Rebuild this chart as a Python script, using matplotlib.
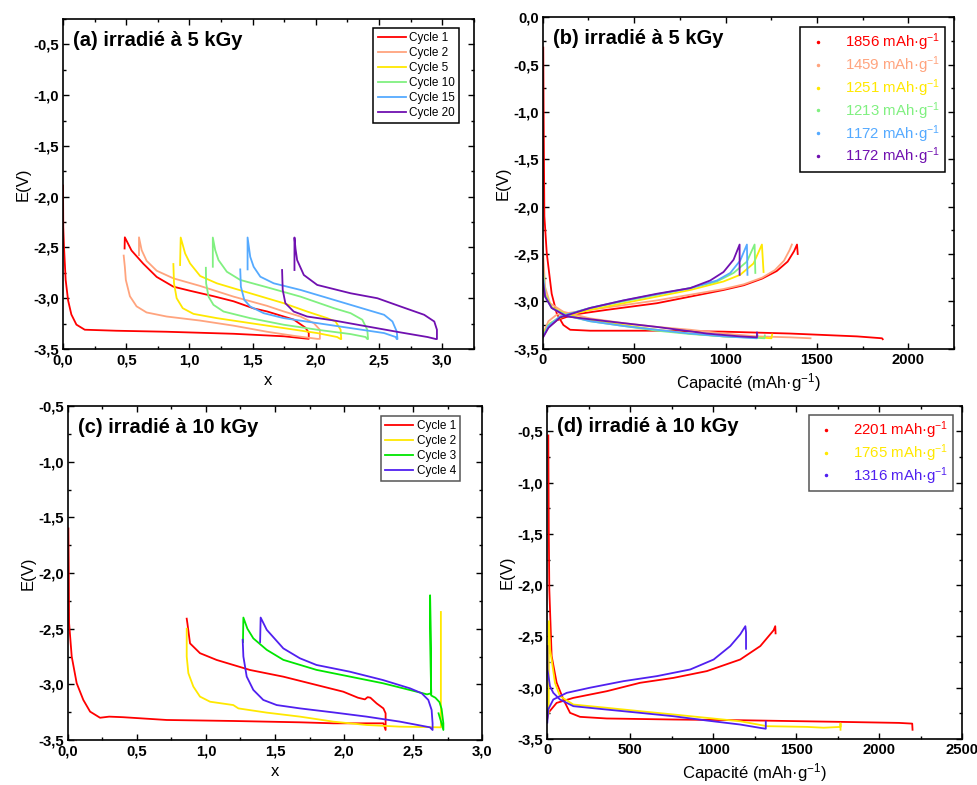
import matplotlib
matplotlib.use("Agg")
import matplotlib.pyplot as plt
from matplotlib.lines import Line2D
from matplotlib.ticker import MultipleLocator, FuncFormatter

plt.rcParams["font.family"] = ["Liberation Sans", "DejaVu Sans"]
plt.rcParams["mathtext.fontset"] = "custom"
plt.rcParams["mathtext.rm"] = "Liberation Sans"
plt.rcParams["mathtext.it"] = "Liberation Sans:italic"
plt.rcParams["mathtext.bf"] = "Liberation Sans:bold"
plt.rcParams["axes.unicode_minus"] = False

# ---- (a) irradie 5 kGy, E vs x ----
a_labels = ["Cycle 1", "Cycle 2", "Cycle 5", "Cycle 10", "Cycle 15", "Cycle 20"]
a_colors = ["#FF0000", "#FFA47E", "#FFE800", "#80F080", "#55AAFF", "#7010B0"]
a_c1_x = [0.0, 0.002, 0.008, 0.021, 0.04, 0.066, 0.106, 0.172, 0.42, 0.82, 1.35, 1.75, 1.944,
          1.944, 1.918, 1.825, 1.614, 1.508, 1.349, 1.19, 1.0, 0.873, 0.741, 0.635, 0.542, 0.489, 0.487]
a_c1_e = [-1.89, -2.3, -2.5, -2.82, -3.02, -3.16, -3.26, -3.31, -3.32, -3.33, -3.35, -3.375, -3.40,
          -3.34, -3.29, -3.21, -3.13, -3.10, -3.03, -2.98, -2.925, -2.886, -2.79, -2.66, -2.53, -2.40, -2.51]
a_c2_x = [0.48, 0.489, 0.497, 0.529, 0.582, 0.661, 0.82, 1.085, 1.349, 1.614, 1.825, 2.011, 2.032,
          2.032, 1.984, 1.878, 1.746, 1.614, 1.349, 1.085, 0.873, 0.741, 0.661, 0.622, 0.601, 0.601]
a_c2_e = [-2.58, -2.69, -2.82, -2.98, -3.08, -3.14, -3.18, -3.22, -3.27, -3.33, -3.37, -3.40, -3.40,
          -3.31, -3.245, -3.18, -3.13, -3.075, -2.984, -2.879, -2.804, -2.729, -2.631, -2.526, -2.40, -2.575]
a_c5_x = [0.873, 0.878, 0.899, 0.947, 1.032, 1.217, 1.481, 1.746, 2.011, 2.169, 2.196, 2.201,
          2.196, 2.156, 2.09, 1.931, 1.746, 1.481, 1.217, 1.085, 1.005, 0.966, 0.931, 0.926]
a_c5_e = [-2.663, -2.853, -3.0, -3.098, -3.154, -3.196, -3.245, -3.294, -3.343, -3.382, -3.402, -3.402,
          -3.31, -3.229, -3.196, -3.131, -3.049, -2.951, -2.853, -2.781, -2.657, -2.559, -2.402, -2.673]
a_c10_x = [1.13, 1.132, 1.151, 1.19, 1.27, 1.481, 1.746, 2.011, 2.275, 2.394, 2.407, 2.413,
           2.407, 2.368, 2.275, 2.143, 1.878, 1.614, 1.402, 1.296, 1.23, 1.204, 1.185, 1.185]
a_c10_e = [-2.70, -2.853, -2.984, -3.065, -3.131, -3.196, -3.261, -3.31, -3.353, -3.382, -3.402, -3.402,
           -3.31, -3.212, -3.147, -3.098, -2.984, -2.892, -2.82, -2.739, -2.624, -2.526, -2.402, -2.69]
a_c15_x = [1.402, 1.407, 1.434, 1.481, 1.587, 1.746, 2.011, 2.275, 2.54, 2.632, 2.64, 2.646,
           2.64, 2.606, 2.54, 2.407, 2.143, 1.878, 1.667, 1.561, 1.508, 1.481, 1.46, 1.46]
a_c15_e = [-2.716, -2.886, -3.016, -3.082, -3.147, -3.196, -3.245, -3.294, -3.343, -3.382, -3.402, -3.402,
           -3.327, -3.229, -3.163, -3.114, -3.016, -2.918, -2.853, -2.788, -2.69, -2.592, -2.402, -2.716]
a_c20_x = [1.733, 1.738, 1.759, 1.825, 1.931, 2.143, 2.407, 2.672, 2.884, 2.95, 2.958,
           2.958, 2.937, 2.857, 2.672, 2.487, 2.275, 2.011, 1.905, 1.852, 1.839, 1.831, 1.831]
a_c20_e = [-2.722, -2.918, -3.049, -3.131, -3.18, -3.219, -3.278, -3.337, -3.382, -3.402, -3.402,
           -3.31, -3.229, -3.163, -3.082, -3.0, -2.951, -2.869, -2.771, -2.624, -2.51, -2.402, -2.722]

# ---- (b) irradie 5 kGy, E vs capacity ----
b_labels = ["1856", "1459", "1251", "1213", "1172", "1172"]
b_c1_dis_c = [3, 5, 9, 22, 49, 77, 113, 150, 259, 624, 989, 1354, 1719, 1856, 1860]
b_c1_dis_e = [-0.32, -1.0, -2.1, -2.49, -2.92, -3.13, -3.25, -3.30, -3.31, -3.31, -3.32, -3.34, -3.37, -3.39, -3.40]
b_c1_chg_c = [2, 31, 77, 168, 350, 624, 807, 989, 1100, 1200, 1280, 1340, 1375, 1391, 1395]
b_c1_chg_e = [-3.37, -3.27, -3.20, -3.14, -3.09, -3.02, -2.95, -2.88, -2.83, -2.76, -2.68, -2.58, -2.47, -2.40, -2.50]
b_c2_dis_c = [0, 13, 40, 113, 259, 442, 624, 807, 989, 1172, 1354, 1465]
b_c2_dis_e = [-2.42, -2.85, -3.02, -3.11, -3.18, -3.23, -3.27, -3.30, -3.34, -3.37, -3.38, -3.39]
b_c2_chg_c = [2, 31, 77, 259, 442, 624, 807, 989, 1100, 1200, 1270, 1320, 1350, 1363]
b_c2_chg_e = [-3.34, -3.21, -3.14, -3.09, -3.04, -2.99, -2.93, -2.87, -2.82, -2.75, -2.67, -2.57, -2.46, -2.40]
b_c5_dis_c = [0, 13, 49, 131, 259, 442, 624, 807, 989, 1172, 1251, 1255]
b_c5_dis_e = [-2.67, -2.92, -3.06, -3.14, -3.20, -3.25, -3.30, -3.34, -3.37, -3.38, -3.39, -3.35]
b_c5_chg_c = [2, 40, 113, 259, 442, 624, 807, 989, 1080, 1153, 1199, 1208]
b_c5_chg_e = [-3.34, -3.23, -3.16, -3.09, -3.02, -2.95, -2.88, -2.79, -2.72, -2.60, -2.40, -2.69]
b_c10_dis_c = [0, 13, 49, 131, 259, 442, 624, 807, 989, 1172, 1213, 1215]
b_c10_dis_e = [-2.64, -2.93, -3.07, -3.15, -3.21, -3.26, -3.31, -3.345, -3.37, -3.385, -3.39, -3.36]
b_c10_chg_c = [2, 31, 95, 259, 442, 624, 807, 953, 1044, 1117, 1159, 1163]
b_c10_chg_e = [-3.37, -3.25, -3.16, -3.07, -3.0, -2.93, -2.86, -2.79, -2.70, -2.58, -2.40, -2.70]
b_c15_dis_c = [0, 13, 49, 131, 259, 442, 624, 807, 989, 1172, 1175]
b_c15_dis_e = [-2.70, -2.95, -3.07, -3.15, -3.21, -3.26, -3.30, -3.34, -3.37, -3.39, -3.36]
b_c15_chg_c = [2, 31, 95, 259, 442, 624, 807, 953, 1026, 1080, 1117, 1120]
b_c15_chg_e = [-3.37, -3.26, -3.16, -3.07, -2.99, -2.925, -2.86, -2.78, -2.70, -2.57, -2.40, -2.72]
b_c20_dis_c = [0, 13, 49, 131, 350, 624, 898, 1080, 1172, 1172]
b_c20_dis_e = [-2.77, -2.95, -3.07, -3.16, -3.21, -3.27, -3.34, -3.37, -3.38, -3.33]
b_c20_chg_c = [2, 31, 95, 259, 442, 624, 807, 916, 989, 1044, 1077, 1077]
b_c20_chg_e = [-3.38, -3.28, -3.17, -3.07, -2.99, -2.92, -2.86, -2.78, -2.69, -2.56, -2.40, -2.72]

# ---- (c) irradie 10 kGy, E vs x ----
c_labels = ["Cycle 1", "Cycle 2", "Cycle 3", "Cycle 4"]
c_colors = ["#FF0000", "#FFE800", "#00E600", "#5020F0"]
c_c1_x = [0.005, 0.008, 0.01, 0.029, 0.065, 0.113, 0.162, 0.234, 0.3, 0.4, 0.716, 1.198, 1.681, 1.922, 2.284,
          2.30, 2.30, 2.30, 2.284, 2.235, 2.19, 2.17, 2.15, 2.10, 1.994, 1.801, 1.56, 1.319, 1.078, 0.957,
          0.885, 0.866, 0.861]
c_c1_e = [-1.60, -2.0, -2.45, -2.75, -2.99, -3.14, -3.245, -3.30, -3.29, -3.295, -3.32, -3.329, -3.341, -3.35, -3.35,
          -3.41, -3.35, -3.26, -3.216, -3.171, -3.12, -3.115, -3.135, -3.12, -3.066, -3.006, -2.931, -2.871, -2.781, -2.72,
          -2.632, -2.452, -2.41]
c_c2_x = [0.861, 0.861, 0.873, 0.909, 0.957, 1.03, 1.198, 1.235, 1.44, 1.681, 1.922, 2.163, 2.404, 2.694, 2.70, 2.70]
c_c2_e = [-2.5, -2.75, -2.90, -3.02, -3.11, -3.156, -3.186, -3.216, -3.254, -3.29, -3.335, -3.365, -3.38, -3.386,
          -3.386, -2.35]
c_c3_x = [2.683, 2.70, 2.718, 2.718, 2.705, 2.69, 2.66, 2.63, 2.622, 2.626, 2.63, 2.60, 2.525, 2.28, 2.04, 1.80,
          1.56, 1.44, 1.343, 1.30, 1.271, 1.268]
c_c3_e = [-3.26, -3.33, -3.41, -3.35, -3.22, -3.16, -3.12, -3.10, -2.20, -2.85, -3.08, -3.09, -3.066, -2.99, -2.93,
          -2.87, -2.78, -2.69, -2.587, -2.50, -2.40, -2.62]
c_c4_x = [1.266, 1.271, 1.295, 1.343, 1.415, 1.512, 1.681, 1.922, 2.163, 2.404, 2.621, 2.64,
          2.64, 2.633, 2.609, 2.561, 2.477, 2.28, 2.04, 1.80, 1.68, 1.56, 1.44, 1.396, 1.392]
c_c4_e = [-2.60, -2.75, -2.93, -3.05, -3.14, -3.186, -3.216, -3.252, -3.29, -3.335, -3.386, -3.41,
          -3.35, -3.23, -3.14, -3.08, -3.036, -2.961, -2.886, -2.826, -2.766, -2.677, -2.51, -2.40, -2.62]

# ---- (d) irradie 10 kGy, E vs capacity ----
d_labels = ["2201", "1765", "1316"]
d_colors = ["#FF0000", "#FFE800", "#5020F0"]
d_c1_dis_c = [6, 9, 12, 26, 56, 97, 137, 197, 358, 559, 760, 1162, 1766, 2118, 2198, 2200]
d_c1_dis_e = [-0.54, -1.5, -2.04, -2.69, -2.95, -3.115, -3.245, -3.284, -3.30, -3.305, -3.31, -3.317, -3.333,
              -3.343, -3.35, -3.41]
d_c1_chg_c = [0, 6, 56, 157, 358, 559, 760, 961, 1162, 1283, 1363, 1373, 1375]
d_c1_chg_e = [-3.30, -3.245, -3.148, -3.099, -3.034, -2.952, -2.904, -2.838, -2.725, -2.594, -2.44, -2.40, -2.47]
d_c2_c = [8, 10, 16, 26, 46, 76, 157, 358, 559, 760, 961, 1162, 1323, 1565, 1665, 1766, 1766, 1766]
d_c2_e = [-3.25, -2.35, -2.62, -2.725, -2.952, -3.082, -3.164, -3.196, -3.229, -3.261, -3.294, -3.327, -3.375,
          -3.382, -3.39, -3.382, -3.35, -3.41]
d_c3_dis_c = [0, 1, 16, 36, 76, 157, 358, 559, 760, 961, 1162, 1283, 1316, 1316]
d_c3_dis_e = [-2.594, -2.82, -2.985, -3.05, -3.115, -3.18, -3.213, -3.245, -3.278, -3.32, -3.359, -3.392, -3.40, -3.33]
d_c3_chg_c = [0, 6, 36, 117, 257, 459, 660, 861, 1002, 1102, 1162, 1193, 1197, 1197]
d_c3_chg_e = [-3.34, -3.21, -3.115, -3.05, -3.0, -2.936, -2.887, -2.822, -2.725, -2.594, -2.48, -2.40, -2.46, -2.62]


def comma(fmt):
    return FuncFormatter(lambda v, p: format(v, fmt).replace(".", ","))


def style(ax, xlim, ylim, xmaj, xfmt):
    ax.set_xlim(*xlim)
    ax.set_ylim(*ylim)
    ax.xaxis.set_major_locator(MultipleLocator(xmaj))
    ax.xaxis.set_minor_locator(MultipleLocator(xmaj / 2))
    ax.yaxis.set_major_locator(MultipleLocator(0.5))
    ax.yaxis.set_minor_locator(MultipleLocator(0.25))
    ax.xaxis.set_major_formatter(comma(xfmt))
    ax.yaxis.set_major_formatter(comma(".1f"))
    ax.tick_params(which="both", direction="in", top=True, right=True, width=1.0)
    ax.tick_params(which="major", length=4, labelsize=10.7, pad=3)
    ax.tick_params(which="minor", length=2.2)
    for lab in ax.get_xticklabels() + ax.get_yticklabels():
        lab.set_fontweight("bold")
    for s in ax.spines.values():
        s.set_linewidth(1.2)
    ax.set_ylabel("E(V)", fontsize=12, labelpad=2)


def title(ax, s):
    ax.text(0.024, 0.965, s, transform=ax.transAxes, fontsize=14.5,
            fontweight="bold", va="top", ha="left")


def line_legend(ax, anchor, edge):
    lg = ax.legend(loc="upper right", bbox_to_anchor=anchor, fontsize=8.5, fancybox=False,
                   edgecolor=edge, framealpha=1, borderpad=0.35, labelspacing=0.25,
                   handlelength=2.4, handletextpad=0.3, borderaxespad=0)
    lg.get_frame().set_linewidth(1.1)
    return lg


def dot_legend(ax, labels, colors, anchor, edge):
    handles = [Line2D([], [], color=c, marker=".", linestyle="none", markersize=3) for c in colors]
    texts = [f"{v} mAh·g$^{{-1}}$" for v in labels]
    lg = ax.legend(handles, texts, loc="upper right", bbox_to_anchor=anchor, fontsize=10.8,
                   fancybox=False, edgecolor=edge, framealpha=1, borderpad=0.3,
                   labelspacing=0.08, handlelength=1.7, handletextpad=0.95, borderaxespad=0)
    lg.get_frame().set_linewidth(1.1)
    for t, c in zip(lg.get_texts(), colors):
        t.set_color(c)
    return lg


fig = plt.figure(figsize=(9.77, 7.85), dpi=100)
ax_a = fig.add_axes([0.0645, 0.5554, 0.4205, 0.4204])
ax_b = fig.add_axes([0.5555, 0.5558, 0.4210, 0.4222])
ax_c = fig.add_axes([0.0693, 0.0573, 0.4244, 0.4255])
ax_d = fig.add_axes([0.5602, 0.0586, 0.4248, 0.4246])

lw = 1.3

# (a)
a_xs = [a_c1_x, a_c2_x, a_c5_x, a_c10_x, a_c15_x, a_c20_x]
a_es = [a_c1_e, a_c2_e, a_c5_e, a_c10_e, a_c15_e, a_c20_e]
for xs, es, col, lab in zip(a_xs, a_es, a_colors, a_labels):
    ax_a.plot(xs, es, color=col, lw=lw, label=lab)
style(ax_a, (0, 3.25), (-3.5, -0.25), 0.5, ".1f")
ax_a.set_xlabel("x", fontsize=12, labelpad=4)
title(ax_a, "(a) irradié à 5 kGy")
line_legend(ax_a, (0.965, 0.973), "black")

# (b)
b_dis = [(b_c1_dis_c, b_c1_dis_e), (b_c2_dis_c, b_c2_dis_e), (b_c5_dis_c, b_c5_dis_e),
         (b_c10_dis_c, b_c10_dis_e), (b_c15_dis_c, b_c15_dis_e), (b_c20_dis_c, b_c20_dis_e)]
b_chg = [(b_c1_chg_c, b_c1_chg_e), (b_c2_chg_c, b_c2_chg_e), (b_c5_chg_c, b_c5_chg_e),
         (b_c10_chg_c, b_c10_chg_e), (b_c15_chg_c, b_c15_chg_e), (b_c20_chg_c, b_c20_chg_e)]
for (dc, de), (cc, ce), col in zip(b_dis, b_chg, a_colors):
    ax_b.plot(dc, de, color=col, lw=lw)
    ax_b.plot(cc, ce, color=col, lw=lw)
style(ax_b, (0, 2250), (-3.5, 0), 500, ".0f")
ax_b.set_xlabel("Capacité (mAh·g$^{-1}$)", fontsize=12, labelpad=3)
title(ax_b, "(b) irradié à 5 kGy")
dot_legend(ax_b, b_labels, a_colors, (0.977, 0.970), "black")

# (c)
c_xs = [c_c1_x, c_c2_x, c_c3_x, c_c4_x]
c_es = [c_c1_e, c_c2_e, c_c3_e, c_c4_e]
for xs, es, col, lab in zip(c_xs, c_es, c_colors, c_labels):
    ax_c.plot(xs, es, color=col, lw=lw, label=lab)
style(ax_c, (0, 3.0), (-3.5, -0.5), 0.5, ".1f")
ax_c.set_xlabel("x", fontsize=12, labelpad=4)
title(ax_c, "(c) irradié à 10 kGy")
line_legend(ax_c, (0.946, 0.970), "#555555")

# (d)
ax_d.plot(d_c1_dis_c, d_c1_dis_e, color=d_colors[0], lw=lw)
ax_d.plot(d_c1_chg_c, d_c1_chg_e, color=d_colors[0], lw=lw)
ax_d.plot(d_c2_c, d_c2_e, color=d_colors[1], lw=lw)
ax_d.plot(d_c3_dis_c, d_c3_dis_e, color=d_colors[2], lw=lw)
ax_d.plot(d_c3_chg_c, d_c3_chg_e, color=d_colors[2], lw=lw)
style(ax_d, (0, 2500), (-3.5, -0.25), 500, ".0f")
ax_d.set_xlabel("Capacité (mAh·g$^{-1}$)", fontsize=12, labelpad=3)
title(ax_d, "(d) irradié à 10 kGy")
dot_legend(ax_d, d_labels, d_colors, (0.978, 0.972), "#555555")

fig.savefig("out.png", dpi=100)
